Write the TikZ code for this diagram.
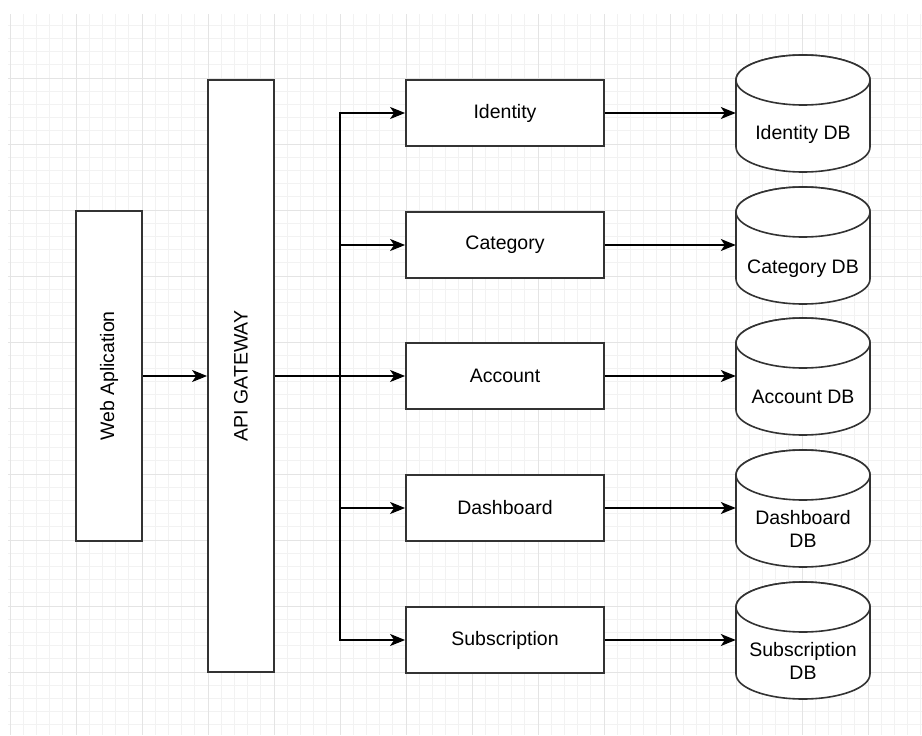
\documentclass[tikz,border=0pt]{standalone}
\usepackage{fontspec}
\setmainfont{Liberation Sans}
\usetikzlibrary{arrows.meta}
\definecolor{minorgrid}{HTML}{F2F2F2}
\definecolor{majorgrid}{HTML}{E4E4E4}
\definecolor{boxline}{HTML}{333333}
\tikzset{
  box/.style={draw=boxline, line width=1.8pt, fill=white, inner sep=0pt, align=center,
    font=\fontsize{19.5}{23.5}\selectfont},
  arr/.style={draw=black, line width=1.4pt, -{Stealth[length=15pt,width=12pt,inset=4pt]}},
  cyl/.style={draw=boxline, line width=1.6pt, fill=white},
  dblabel/.style={inner sep=0pt, align=center, font=\fontsize{19.5}{23.5}\selectfont},
}
\newcommand{\dbcyl}[4]{%
  % #1 name, #2 center y, #3 label, #4 label y offset
  \path[cyl] (736,#2-33) -- (736,#2+34) arc[start angle=180,end angle=360,x radius=67pt,y radius=25pt] -- (870,#2-33) arc[start angle=0,end angle=180,x radius=67pt,y radius=25pt] -- cycle;
  \draw[cyl] (803,#2-33) ellipse[x radius=67pt, y radius=25pt];
  \node[inner sep=0pt, minimum width=134pt, minimum height=118pt] (#1) at (803,#2) {};
  \node[dblabel] (#1l) at (803,#2+#4) {#3};
}
\begin{document}
\begin{tikzpicture}[x=1pt,y=-1pt]
\useasboundingbox (0,0) rectangle (922,736);
\fill[white] (0,0) rectangle (922,736);
% grid
\begin{scope}
\clip (8,14) rectangle (922,735);
\foreach \k in {0,...,69} {
  \draw[minorgrid, line width=0.8pt] ({10+13.2*\k},14) -- ({10+13.2*\k},735);
}
\foreach \k in {0,...,55} {
  \draw[minorgrid, line width=0.8pt] (8,{12+13.2*\k}) -- (922,{12+13.2*\k});
}
\foreach \k in {0,...,14} {
  \draw[majorgrid, line width=1pt] ({10+66*\k},14) -- ({10+66*\k},735);
}
\foreach \k in {0,...,11} {
  \draw[majorgrid, line width=1pt] (8,{12+66*\k}) -- (922,{12+66*\k});
}
\end{scope}
% main boxes
\node[box, minimum width=66pt, minimum height=330pt] (web) at (109,376) {};
\node[rotate=90, font=\fontsize{19.5}{23.5}\selectfont] (webl) at (109,376) {Web Aplication};
\node[box, minimum width=66pt, minimum height=592pt] (gw) at (241,376) {};
\node[rotate=90, font=\fontsize{19.5}{23.5}\selectfont] (gwl) at (241,376) {API GATEWAY};
% services
\node[box, minimum width=198pt, minimum height=66pt] (idn) at (505,113) {Identity};
\node[box, minimum width=198pt, minimum height=66pt] (cat) at (505,245) {Category};
\node[box, minimum width=198pt, minimum height=66pt] (acc) at (505,376) {Account};
\node[box, minimum width=198pt, minimum height=66pt] (dash) at (505,508) {Dashboard};
\node[box, minimum width=198pt, minimum height=66pt] (sub) at (505,640) {Subscription};
% databases
\dbcyl{idndb}{113}{Identity DB}{21}
\dbcyl{catdb}{245}{Category DB}{24}
\dbcyl{accdb}{376}{Account DB}{21}
\dbcyl{dashdb}{508}{Dashboard\\DB}{21}
\dbcyl{subdb}{640}{Subscription\\DB}{21}
% connectors
\draw[arr] (web.east) -- (gw.west);
\draw[arr] (gw.east) -- (acc.west);
\coordinate (trunk) at (340,376);
\draw[arr] (trunk) |- (idn.west);
\draw[arr] (trunk) |- (cat.west);
\draw[arr] (trunk) |- (dash.west);
\draw[arr] (trunk) |- (sub.west);
\draw[arr] (idn.east) -- (idndb.west);
\draw[arr] (cat.east) -- (catdb.west);
\draw[arr] (acc.east) -- (accdb.west);
\draw[arr] (dash.east) -- (dashdb.west);
\draw[arr] (sub.east) -- (subdb.west);
\end{tikzpicture}
\end{document}
